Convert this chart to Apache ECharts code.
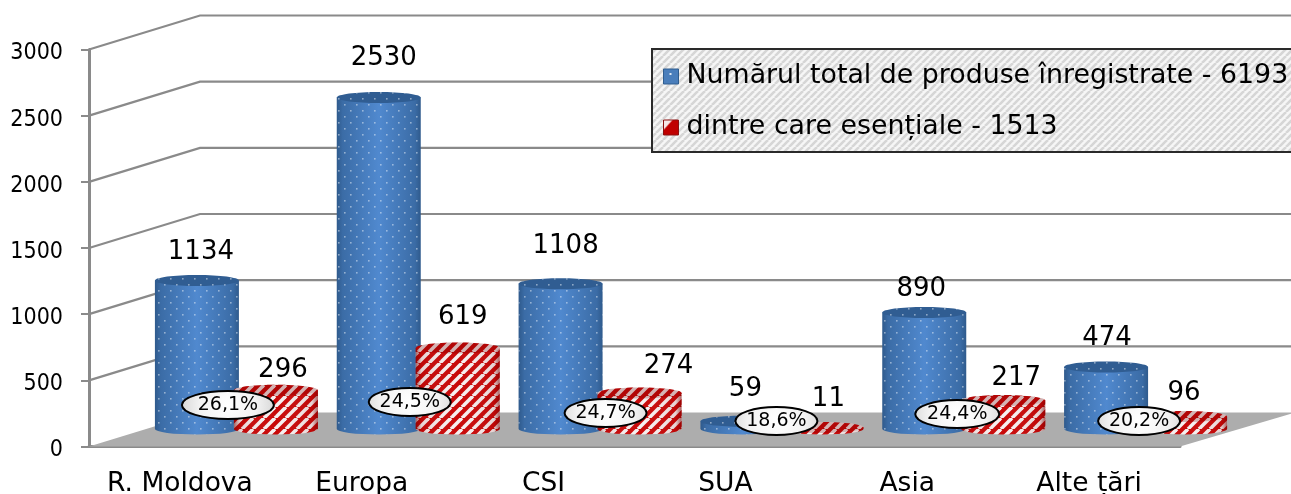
<!DOCTYPE html>
<html><head><meta charset="utf-8">
<style>html,body{margin:0;padding:0;background:#fff}#c{width:1291px;height:494px}</style>
<script src="https://cdn.jsdelivr.net/npm/echarts@6/dist/echarts.min.js"></script></head>
<body><div id="c"></div>
<script>
const categories = ['R. Moldova','Europa','CSI','SUA','Asia','Alte țări'];
const totalValues = [1134,2530,1108,59,890,474];
const essentialValues = [296,619,274,11,217,96];
const shares = ['26,1%','24,5%','24,7%','18,6%','24,4%','20,2%'];
const yTicks = [0,500,1000,1500,2000,2500,3000];
const totalName = 'Numărul total de produse înregistrate - 6193';
const essentialName = 'dintre care esențiale - 1513';

// hand-placed annotation layout (pixel nudges, as in the reference)
const totalLabelShift = [[3,-29],[4,-40],[4,-39],[2,-33],[-4,-24],[0,-30]];
const essentialLabelShift = [[6,-21],[4,-32],[28,-28],[6,-29],[12,-23],[-2,-24]];
const calloutPos = [[48,405,46],[48,402,41],[62,413,41],[51,421,41],[50,414,42],[50,421,41]];

const FONT = '"DejaVu Sans",sans-serif';
const DEPTH_X = 111, DEPTH_Y = -34, MID_X = 56.5, MID_Y = -17.5;
const RX = 42, RY = 5.5, OFFSET = 39.5;

function tile(w,h,draw){const c=document.createElement('canvas');c.width=w;c.height=h;draw(c.getContext('2d'),w,h);return {image:c,repeat:'repeat'};}
function stripes(ctx,p,lw,color){ctx.strokeStyle=color;ctx.lineWidth=lw;for(let i=-1;i<=1;i++){ctx.beginPath();ctx.moveTo(i*p,p);ctx.lineTo(i*p+p,0);ctx.stroke();}}
const dots = tile(12,12,(c)=>{c.fillStyle='rgba(235,242,250,0.5)';c.fillRect(2,2,1.6,1.6);c.fillRect(8,8,1.6,1.6);});
const redTile = tile(11,11,(c,w,h)=>{c.fillStyle='#c80808';c.fillRect(0,0,w,h);stripes(c,11,3.6,'#f6f0f0');});
const hatch = tile(7,7,(c,w,h)=>{c.fillStyle='#f6f6f6';c.fillRect(0,0,w,h);stripes(c,7,2.6,'#d6d6d6');});
const legendBlue = tile(16,16,(c)=>{c.fillStyle='#4a7ebb';c.fillRect(0,0,16,16);c.fillStyle='#dfe9f5';c.fillRect(6,4,2,2);});
const legendRed = tile(16,16,(c)=>{c.fillStyle='#c00000';c.fillRect(0,0,16,16);c.fillStyle='#f6e8e8';c.beginPath();c.moveTo(0,0);c.lineTo(9,0);c.lineTo(0,10);c.fill();});

function hGrad(stops){return {type:'linear',x:0,y:0,x2:1,y2:0,colorStops:stops};}
const blueBody = hGrad([{offset:0,color:'#2f5a8c'},{offset:.07,color:'#3b6ca6'},{offset:.5,color:'#5089cf'},{offset:.93,color:'#3b6ca6'},{offset:1,color:'#2f5a8c'}]);
const redShade = hGrad([{offset:0,color:'rgba(120,0,0,.6)'},{offset:.07,color:'rgba(120,0,0,.12)'},{offset:.5,color:'rgba(255,255,255,0)'},{offset:.93,color:'rgba(120,0,0,.12)'},{offset:1,color:'rgba(120,0,0,.6)'}]);

function bodyPath(cx,top,base){
  const l=cx-RX,r=cx+RX;
  return {type:'path',shape:{pathData:`M${l} ${top}L${l} ${base}A${RX} ${RY} 0 0 0 ${r} ${base}L${r} ${top}Z`,x:l,y:top,width:2*RX,height:base-top+RY,layout:'cover'}};
}
function cylinder(params,api,sign,fillA,fillB,topA,topB,labels,shifts){
  const i=api.value(0), v=api.value(1);
  const p0=api.coord([i,0]), pv=api.coord([i,v]);
  const cx=p0[0]+MID_X+sign*OFFSET, base=p0[1]+MID_Y;
  const top=base-(p0[1]-pv[1])*0.99;
  const mk=(o,style)=>Object.assign({},o,{style});
  const s=shifts[i];
  return {type:'group',children:[
    mk(bodyPath(cx,top,base),{fill:fillA}),
    mk(bodyPath(cx,top,base),{fill:fillB}),
    {type:'ellipse',shape:{cx,cy:top,rx:RX,ry:RY},style:{fill:topA}},
    {type:'ellipse',shape:{cx,cy:top,rx:RX,ry:RY},style:{fill:topB}},
    {type:'text',style:{text:String(labels[i]),x:cx+s[0]+1,y:top+s[1]+1,font:'26px '+FONT,fill:'#000',textAlign:'center',textVerticalAlign:'middle'}}
  ]};
}

const option = {
  animation:false,
  backgroundColor:'#fff',
  grid:{left:89,right:111,top:49.5,bottom:47.5,outerBoundsMode:'none'},
  xAxis:{type:'category',data:categories,boundaryGap:true,
    axisLine:{lineStyle:{color:'#8a8a8a',width:3}},axisTick:{show:false},
    axisLabel:{color:'#000',margin:24,fontFamily:'DejaVu Sans',fontSize:26.5,interval:0},splitLine:{show:false}},
  yAxis:{type:'value',min:0,max:3000,interval:500,
    axisLine:{show:true,lineStyle:{color:'#8a8a8a',width:3}},axisTick:{show:true,length:8,lineStyle:{color:'#8a8a8a',width:2}},
    axisLabel:{fontFamily:'DejaVu Sans Condensed',fontSize:23,color:'#000',margin:26,verticalAlign:'top',lineHeight:8,formatter:v=>String(v)},splitLine:{show:false}},
  legend:{left:652,top:49,orient:'vertical',data:[
      {name:totalName,itemStyle:{color:legendBlue,borderColor:'#2f5d8f',borderWidth:1}},
      {name:essentialName,itemStyle:{color:legendRed,borderColor:'#8c1010',borderWidth:1}}],
    icon:'rect',itemWidth:15,itemHeight:15,itemGap:24,padding:[14,20,11,11],
    backgroundColor:hatch,borderColor:'#2a2a2a',borderWidth:2,borderRadius:0,
    textStyle:{fontFamily:'DejaVu Sans',fontSize:26.8,color:'#000',padding:[0,0,0,3]},selectedMode:false},
  series:[
    {type:'custom',name:'walls',silent:true,z:1,legendHoverLink:false,
     data:yTicks.map(t=>[0,t]),encode:{x:0,y:1},
     renderItem(params,api){
       const t=api.value(1), p=api.coord([0,t]);
       const g=params.coordSys;
       const x0=g.x, y0=p[1], x1=x0+DEPTH_X, y1=y0+DEPTH_Y, xe=1295;
       const kids=[];
       if(t===0){
         kids.push({type:'polygon',shape:{points:[[x0,y0],[x1,y1],[xe,y1],[g.x+g.width,y0]]},style:{fill:'#adadad'}});
       } else {
         kids.push({type:'polyline',shape:{points:[[x0,y0],[x1,y1],[xe,y1]]},style:{stroke:'#8a8a8a',lineWidth:2.2,fill:'none'}});
       }
       return {type:'group',children:kids};
     }},
    {type:'custom',name:totalName,z:3,itemStyle:{color:'#4a7ebb'},
     data:totalValues.map((v,i)=>[i,v]),encode:{x:0,y:1},
     renderItem:(p,a)=>cylinder(p,a,-1,blueBody,dots,'#305d92',dots,totalValues,totalLabelShift)},
    {type:'custom',name:essentialName,z:4,itemStyle:{color:'#c00000'},
     data:essentialValues.map((v,i)=>[i,v]),encode:{x:0,y:1},
     renderItem:(p,a)=>cylinder(p,a,1,redTile,redShade,redTile,'rgba(110,0,0,.25)',essentialValues,essentialLabelShift)},
    {type:'custom',name:'shares',silent:true,z:5,
     data:shares.map((s,i)=>[i,0]),encode:{x:0,y:1},
     renderItem(params,api){
       const i=api.value(0), p=api.coord([i,0]), c=calloutPos[i];
       const cx=p[0]+c[0], cy=c[1];
       return {type:'group',children:[
         {type:'ellipse',shape:{cx,cy,rx:c[2],ry:14},style:{fill:{type:'radial',x:.5,y:.5,r:1.6,colorStops:[{offset:0,color:'#ffffff'},{offset:.6,color:'#f2f2f2'},{offset:1,color:'#d6d6d6'}]},stroke:'#000',lineWidth:2}},
         {type:'text',style:{text:shares[i],x:cx,y:cy,font:'19px '+FONT,fill:'#000',textAlign:'center',textVerticalAlign:'middle'}}
       ]};
     }}
  ]
};
const chart=echarts.init(document.getElementById('c'),null,{renderer:'canvas',width:1291,height:494});
chart.setOption(option);
</script></body></html>
